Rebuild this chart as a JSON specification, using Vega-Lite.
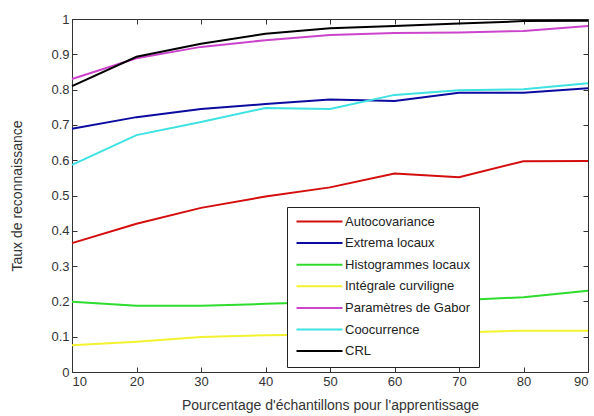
{
  "$schema": "https://vega.github.io/schema/vega-lite/v6.json",
  "width": 516,
  "height": 353,
  "autosize": {"type": "none"},
  "padding": {"left": 72, "top": 19, "right": 6, "bottom": 44},
  "background": "white",
  "config": {
    "font": "Liberation Sans",
    "view": {"stroke": "#333", "strokeWidth": 1},
    "axis": {"grid": false, "labelFont": "Liberation Sans", "labelFontSize": 13, "labelColor": "#333", "titleFont": "Liberation Sans", "titleFontSize": 14, "titleFontWeight": "normal", "titleColor": "#333", "domainColor": "#333", "tickColor": "#333", "tickSize": -5}
  },
  "data": {"values": [
    {"x":10,"s":"Autocovariance","y":0.365},{"x":20,"s":"Autocovariance","y":0.42},{"x":30,"s":"Autocovariance","y":0.465},{"x":40,"s":"Autocovariance","y":0.497},{"x":50,"s":"Autocovariance","y":0.523},{"x":60,"s":"Autocovariance","y":0.562},{"x":70,"s":"Autocovariance","y":0.552},{"x":80,"s":"Autocovariance","y":0.597},{"x":90,"s":"Autocovariance","y":0.598},
    {"x":10,"s":"Extrema locaux","y":0.689},{"x":20,"s":"Extrema locaux","y":0.722},{"x":30,"s":"Extrema locaux","y":0.745},{"x":40,"s":"Extrema locaux","y":0.759},{"x":50,"s":"Extrema locaux","y":0.772},{"x":60,"s":"Extrema locaux","y":0.768},{"x":70,"s":"Extrema locaux","y":0.791},{"x":80,"s":"Extrema locaux","y":0.791},{"x":90,"s":"Extrema locaux","y":0.804},
    {"x":10,"s":"Histogrammes locaux","y":0.199},{"x":20,"s":"Histogrammes locaux","y":0.188},{"x":30,"s":"Histogrammes locaux","y":0.188},{"x":40,"s":"Histogrammes locaux","y":0.193},{"x":50,"s":"Histogrammes locaux","y":0.198},{"x":60,"s":"Histogrammes locaux","y":0.2},{"x":70,"s":"Histogrammes locaux","y":0.203},{"x":80,"s":"Histogrammes locaux","y":0.212},{"x":90,"s":"Histogrammes locaux","y":0.23},
    {"x":10,"s":"Intégrale curviligne","y":0.076},{"x":20,"s":"Intégrale curviligne","y":0.086},{"x":30,"s":"Intégrale curviligne","y":0.099},{"x":40,"s":"Intégrale curviligne","y":0.104},{"x":50,"s":"Intégrale curviligne","y":0.106},{"x":60,"s":"Intégrale curviligne","y":0.11},{"x":70,"s":"Intégrale curviligne","y":0.112},{"x":80,"s":"Intégrale curviligne","y":0.117},{"x":90,"s":"Intégrale curviligne","y":0.117},
    {"x":10,"s":"Paramètres de Gabor","y":0.83},{"x":20,"s":"Paramètres de Gabor","y":0.889},{"x":30,"s":"Paramètres de Gabor","y":0.921},{"x":40,"s":"Paramètres de Gabor","y":0.94},{"x":50,"s":"Paramètres de Gabor","y":0.955},{"x":60,"s":"Paramètres de Gabor","y":0.96},{"x":70,"s":"Paramètres de Gabor","y":0.962},{"x":80,"s":"Paramètres de Gabor","y":0.966},{"x":90,"s":"Paramètres de Gabor","y":0.98},
    {"x":10,"s":"Coocurrence","y":0.587},{"x":20,"s":"Coocurrence","y":0.671},{"x":30,"s":"Coocurrence","y":0.708},{"x":40,"s":"Coocurrence","y":0.748},{"x":50,"s":"Coocurrence","y":0.745},{"x":60,"s":"Coocurrence","y":0.785},{"x":70,"s":"Coocurrence","y":0.798},{"x":80,"s":"Coocurrence","y":0.801},{"x":90,"s":"Coocurrence","y":0.818},
    {"x":10,"s":"CRL","y":0.81},{"x":20,"s":"CRL","y":0.893},{"x":30,"s":"CRL","y":0.93},{"x":40,"s":"CRL","y":0.958},{"x":50,"s":"CRL","y":0.974},{"x":60,"s":"CRL","y":0.98},{"x":70,"s":"CRL","y":0.987},{"x":80,"s":"CRL","y":0.994},{"x":90,"s":"CRL","y":0.995}
  ]},
  "layer": [
    {
      "mark": {"type": "line", "strokeWidth": 2},
      "encoding": {
        "x": {"field": "x", "type": "quantitative", "scale": {"domain": [10, 90], "nice": false}, "axis": {"values": [10,20,30,40,50,60,70,80,90], "title": "Pourcentage d'échantillons pour l'apprentissage", "titlePadding": 10, "labelPadding": 8}},
        "y": {"field": "y", "type": "quantitative", "scale": {"domain": [0, 1], "nice": false}, "axis": {"values": [0,0.1,0.2,0.3,0.4,0.5,0.6,0.7,0.8,0.9,1], "format": "~g", "title": "Taux de reconnaissance", "titlePadding": 26, "labelPadding": 8}},
        "color": {"field": "s", "type": "nominal",
          "scale": {"domain": ["Autocovariance","Extrema locaux","Histogrammes locaux","Intégrale curviligne","Paramètres de Gabor","Coocurrence","CRL"],
                    "range": ["#d40d0d","#0b0ba0","#2edc2e","#f2f230","#cc44cc","#3ee2e2","#000000"]},
          "legend": {"title": null, "orient": "none", "legendX": 215, "legendY": 188, "symbolType": "M-4.6,0L4.6,0", "symbolStrokeWidth": 2, "symbolSize": 100, "symbolOffset": 18, "labelFont": "Liberation Sans", "labelFontSize": 13, "labelColor": "#222", "strokeColor": "#222", "fillColor": "white", "padding": 8, "rowPadding": 7.6, "labelOffset": 19, "labelExpr": "datum.label + '          '"}
        },
        "detail": {"field": "s"}
      }
    },
    {
      "mark": {"type": "line", "opacity": 0},
      "encoding": {
        "x": {"field": "x", "type": "quantitative", "axis": {"orient": "top", "values": [10,20,30,40,50,60,70,80,90], "labels": false, "title": null, "domain": false}},
        "y": {"field": "y", "type": "quantitative", "axis": {"orient": "right", "values": [0,0.1,0.2,0.3,0.4,0.5,0.6,0.7,0.8,0.9,1], "labels": false, "title": null, "domain": false}},
        "detail": {"field": "s"}
      }
    }
  ],
  "resolve": {"axis": {"x": "independent", "y": "independent"}}
}
